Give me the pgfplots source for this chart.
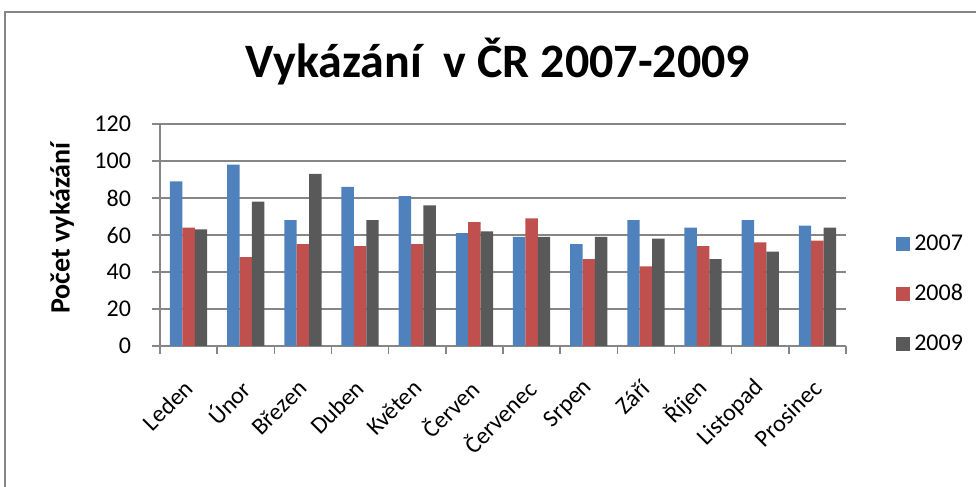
\documentclass[border=0pt]{standalone}
\usepackage{fontspec}
\setmainfont{Carlito}
\usepackage{pgfplots}
\pgfplotsset{compat=1.18}

\definecolor{c07}{HTML}{4F81BD}
\definecolor{c08}{HTML}{C0504D}
\definecolor{c09}{HTML}{595959}
\definecolor{gridc}{HTML}{868686}

\begin{document}
\begin{tikzpicture}
\useasboundingbox (0,0) rectangle (488pt,243.5pt);
% outer chart frame
\draw[gridc, line width=0.6pt] (2.5pt,-10pt) rectangle (500pt,237.5pt);
% title
\node[font=\fontsize{24}{27}\selectfont\bfseries] at (249pt,212.5pt) {Vykázání\ \ v ČR 2007-2009};
% y label
\node[rotate=90, font=\fontsize{14}{16}\selectfont\bfseries] at (31pt,129.5pt) {Počet vykázání};

\begin{axis}[
  at={(80pt,70.5pt)}, anchor=south west,
  scale only axis,
  width=343pt, height=111pt,
  ybar=0pt, bar width=6.2pt,
  xmin=-0.5, xmax=11.5,
  ymin=0, ymax=120,
  ytick={0,20,...,120},
  xtick={0,...,11},
  xticklabels={Leden,Únor,Březen,Duben,Květen,Červen,Červenec,Srpen,Září,Říjen,Listopad,Prosinec},
  minor xtick={-0.5,0.5,...,11.5},
  major x tick style={draw=none},
  tick align=outside,
  major tick length=4pt, minor tick length=4pt,
  tick style={gridc, line width=0.8pt},
  axis x line*=bottom, axis y line*=left,
  axis line style={gridc, line width=0.8pt, -},
  ymajorgrids, grid style={gridc, line width=0.8pt},
  /pgf/number format/assume math mode=true,
  tick label style={font=\fontsize{12}{14}\selectfont},
  yticklabel style={xshift=-7pt},
  xticklabel style={xshift=2.5pt, yshift=-12.7pt, rotate=45, anchor=east},
  legend style={at={(1.064,0.235)}, anchor=west, draw=none, fill=none,
    font=\fontsize{12}{14}\selectfont, row sep=11.5pt},
  legend image code/.code={\fill[#1] (0pt,-3.5pt) rectangle (7pt,3.5pt);},
  legend cell align=left,
]
\addplot[fill=c07, draw=none] coordinates {
 (0,89) (1,98) (2,68) (3,86) (4,81) (5,61) (6,59) (7,55) (8,68) (9,64) (10,68) (11,65)};
\addplot[fill=c08, draw=none] coordinates {
 (0,64) (1,48) (2,55) (3,54) (4,55) (5,67) (6,69) (7,47) (8,43) (9,54) (10,56) (11,57)};
\addplot[fill=c09, draw=none] coordinates {
 (0,63) (1,78) (2,93) (3,68) (4,76) (5,62) (6,59) (7,59) (8,58) (9,47) (10,51) (11,64)};
\legend{2007,2008,2009}
\end{axis}
\end{tikzpicture}
\end{document}
